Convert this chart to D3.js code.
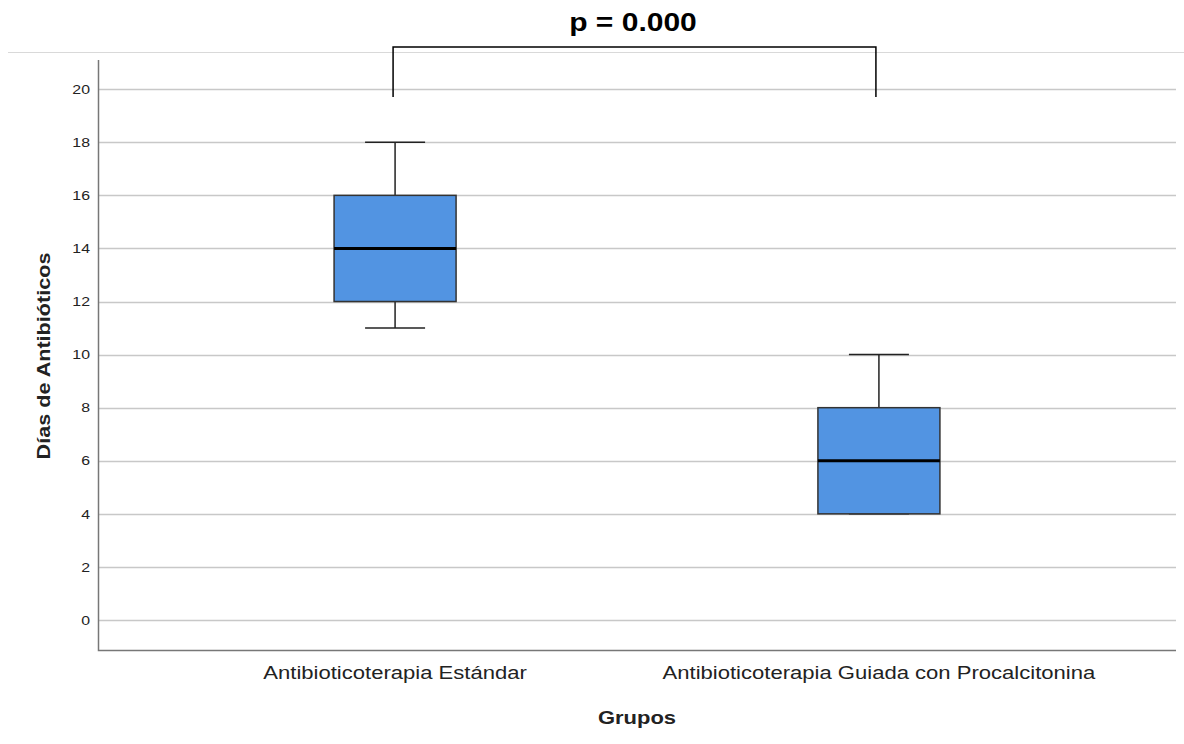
<!DOCTYPE html>
<meta charset="utf-8">
<style>
  body { margin: 0; background: #fff; }
  text { font-family: "Liberation Sans", Arial, sans-serif; }
</style>
<body>
<script src="https://cdn.jsdelivr.net/npm/d3@7"></script>
<script>

var width = 1184,
    height = 744;

// grupos y resumen de cinco numeros (dias)
var grupos = ["Antibioticoterapia Estándar", "Antibioticoterapia Guiada con Procalcitonina"];
var minimos = [11, 4];
var q1s = [12, 4];
var medianas = [14, 6];
var q3s = [16, 8];
var maximos = [18, 10];
var yTicks = [0, 2, 4, 6, 8, 10, 12, 14, 16, 18, 20];
var pTexto = "p = 0.000";

var mLeft = 98, mRight = 1176, mTop = 60, mBottom = 650;

var boxes = grupos.map(function(g, i) {
  return { grupo: g, min: minimos[i], q1: q1s[i], med: medianas[i], q3: q3s[i], max: maximos[i] };
});

var x = d3.scalePoint()
    .domain(grupos)
    .range([mLeft, mRight])
    .padding(0.614);

var y = d3.scaleLinear()
    .domain([-1.13, 21.1])
    .range([mBottom, mTop]);

var svg = d3.select("body").append("svg")
    .attr("width", width)
    .attr("height", height);

// the original text is a bit wide, stretch it horizontally
function stretch(k) {
  return function(sel) {
    sel.each(function() {
      var w = this.getComputedTextLength();
      d3.select(this)
        .attr("textLength", w * k)
        .attr("lengthAdjust", "spacingAndGlyphs");
    });
  };
}

// top border line
svg.append("line")
    .attr("x1", 8).attr("x2", width)
    .attr("y1", 52.5).attr("y2", 52.5)
    .attr("stroke", "#d9d9d9");

// gridlines
svg.append("g")
  .selectAll("line")
  .data(yTicks)
  .enter().append("line")
    .attr("x1", mLeft).attr("x2", mRight)
    .attr("y1", d => Math.round(y(d)) + 0.5)
    .attr("y2", d => Math.round(y(d)) + 0.5)
    .attr("stroke", "#c8c8c8")
    .attr("stroke-width", 1.5);

// y axis
var yAxis = svg.append("g")
    .attr("transform", "translate(" + mLeft + ",0)")
    .call(d3.axisLeft(y).tickValues(yTicks).tickSize(0).tickPadding(8));
yAxis.select(".domain").remove();
yAxis.selectAll("text")
    .attr("font-size", 13)
    .attr("fill", "#222")
    .style("font-family", "'Liberation Sans', Arial, sans-serif")
    .call(stretch(1.22));

// axis frame
svg.append("path")
    .attr("d", "M" + (mLeft + 0.5) + "," + mTop + "V" + (mBottom + 0.5) + "H" + mRight)
    .attr("fill", "none")
    .attr("stroke", "#777")
    .attr("stroke-width", 1.5);

// x labels
svg.append("g")
  .selectAll("text")
  .data(grupos)
  .enter().append("text")
    .attr("x", d => x(d))
    .attr("y", 679)
    .attr("text-anchor", "middle")
    .attr("font-size", 17.5)
    .attr("fill", "#222")
    .text(d => d)
    .call(stretch(1.26));

var boxW = 122, capW = 60;

var g = svg.append("g")
  .selectAll("g")
  .data(boxes)
  .enter().append("g");

// whiskers
g.append("line")
    .attr("x1", d => x(d.grupo)).attr("x2", d => x(d.grupo))
    .attr("y1", d => y(d.max)).attr("y2", d => y(d.q3))
    .attr("stroke", "#222").attr("stroke-width", 1.5);
g.append("line")
    .attr("x1", d => x(d.grupo)).attr("x2", d => x(d.grupo))
    .attr("y1", d => y(d.q1)).attr("y2", d => y(d.min))
    .attr("stroke", "#222").attr("stroke-width", 1.5);
g.selectAll(".cap")
  .data(d => [{ c: x(d.grupo), v: d.max }, { c: x(d.grupo), v: d.min }])
  .enter().append("line")
    .attr("x1", d => d.c - capW / 2).attr("x2", d => d.c + capW / 2)
    .attr("y1", d => y(d.v)).attr("y2", d => y(d.v))
    .attr("stroke", "#222").attr("stroke-width", 1.5);

g.append("rect")
    .attr("x", d => x(d.grupo) - boxW / 2)
    .attr("width", boxW)
    .attr("y", d => y(d.q3))
    .attr("height", d => y(d.q1) - y(d.q3))
    .attr("fill", "#5294e2")
    .attr("stroke", "#333")
    .attr("stroke-width", 1.5);

g.append("line")
    .attr("x1", d => x(d.grupo) - boxW / 2).attr("x2", d => x(d.grupo) + boxW / 2)
    .attr("y1", d => y(d.med)).attr("y2", d => y(d.med))
    .attr("stroke", "#000").attr("stroke-width", 3);

// significance bracket
var bx1 = x(grupos[0]) - 2, bx2 = x(grupos[1]) - 3, by = 47;
svg.append("path")
    .attr("d", "M" + bx1 + "," + 97 + "V" + by + "H" + bx2 + "V" + 97)
    .attr("fill", "none")
    .attr("stroke", "#000")
    .attr("stroke-width", 1.5);

svg.append("text")
    .attr("x", 633)
    .attr("y", 31)
    .attr("text-anchor", "middle")
    .attr("font-size", 25)
    .attr("font-weight", "bold")
    .text(pTexto)
    .call(stretch(1.2));

// axis titles
svg.append("text")
    .attr("x", 637)
    .attr("y", 724)
    .attr("text-anchor", "middle")
    .attr("font-size", 18)
    .attr("font-weight", "bold")
    .attr("fill", "#222")
    .text("Grupos")
    .call(stretch(1.22));

svg.append("text")
    .attr("transform", "translate(50," + 356 + ") rotate(-90)")
    .attr("text-anchor", "middle")
    .attr("font-size", 18)
    .attr("font-weight", "bold")
    .attr("fill", "#222")
    .text("Días de Antibióticos")
    .call(stretch(1.2));

</script>
